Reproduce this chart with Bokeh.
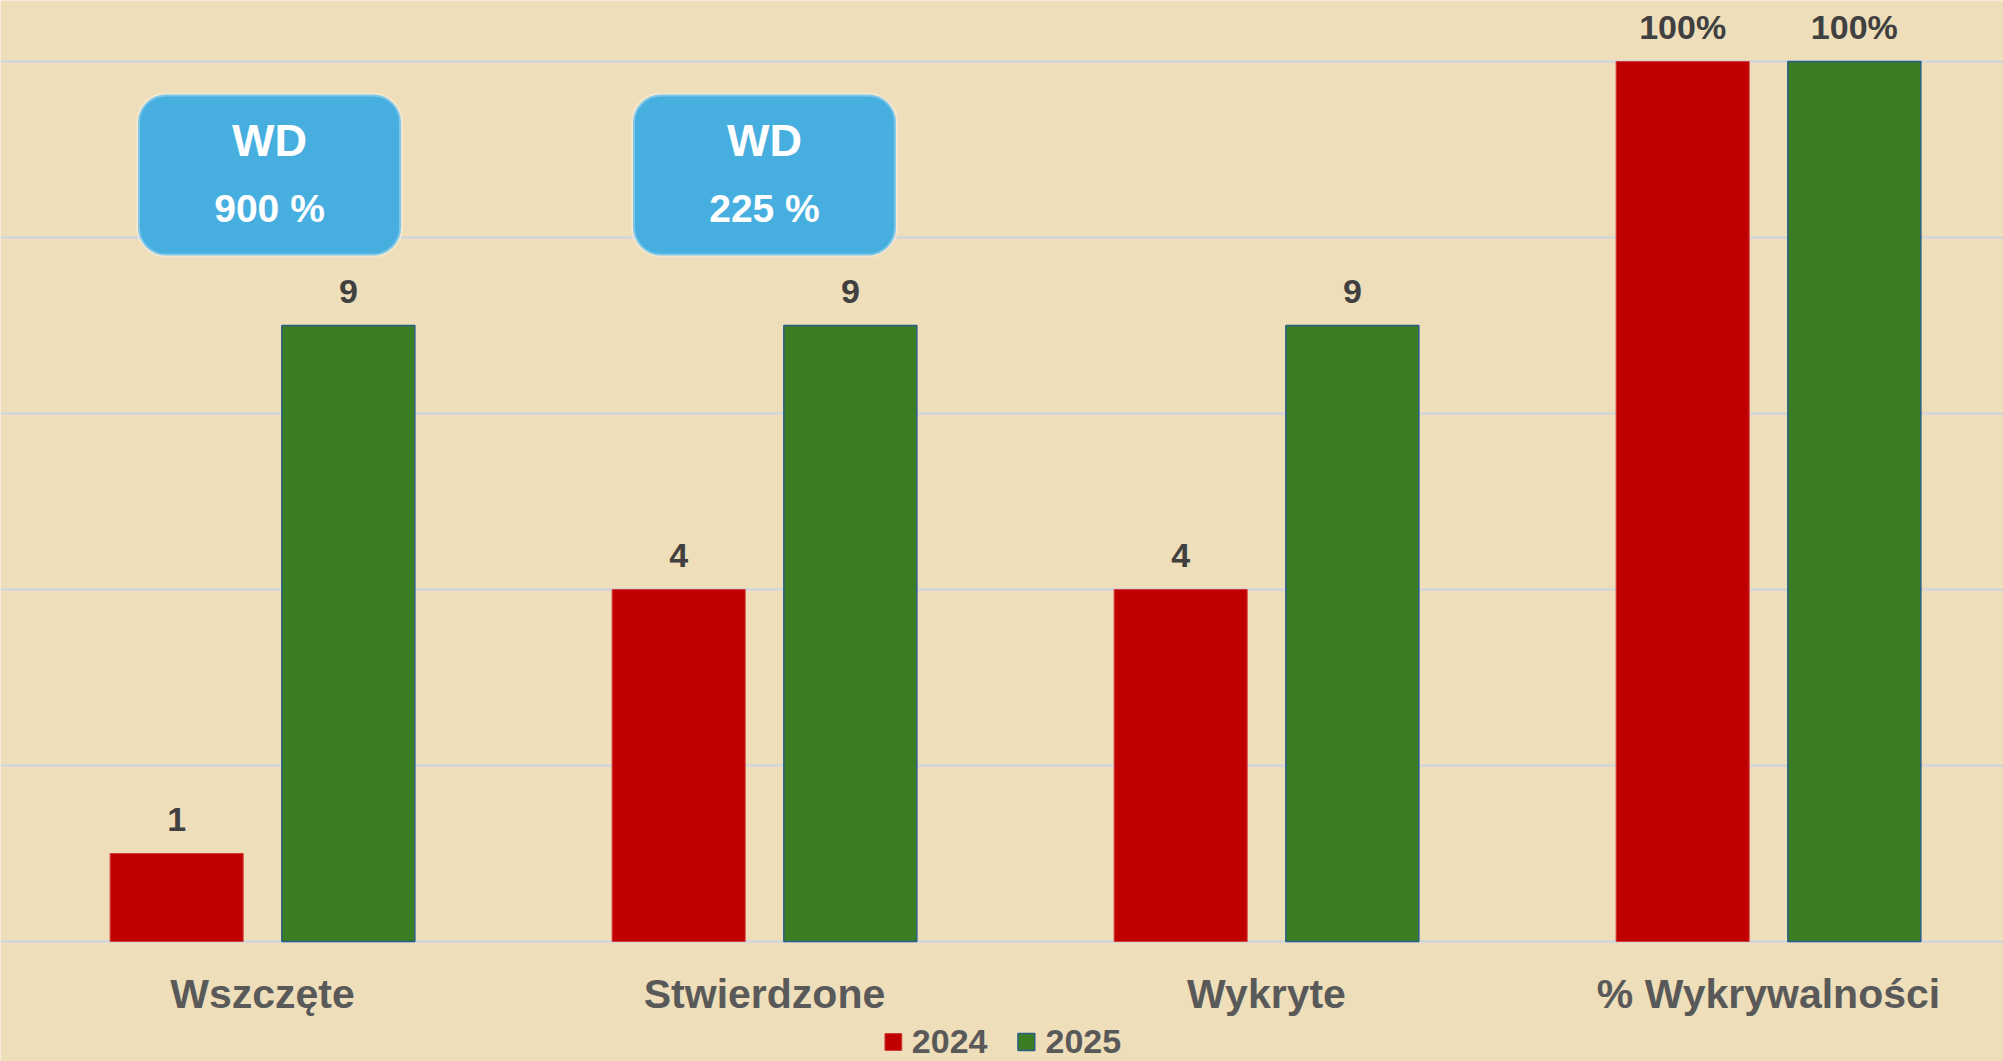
from bokeh.plotting import figure
from bokeh.models import (ColumnDataSource, Range1d, FixedTicker, Legend, LegendItem,
                          BoxAnnotation)
from bokeh.transform import dodge
from bokeh.embed import file_html
from bokeh.resources import INLINE
from bokeh.core.properties import value

# ---------------- data ----------------
categories = ["Wszczęte", "Stwierdzone", "Wykryte", "% Wykrywalności"]
series_names = ["2024", "2025"]
# bar heights as drawn on the chart's value axis
heights_2024 = [1, 4, 4, 10]
heights_2025 = [7, 7, 7, 10]
# data labels printed above the bars
labels_2024 = ["1", "4", "4", "100%"]
labels_2025 = ["9", "9", "9", "100%"]
# call-out boxes (category index, text)
callout_cats = [0, 1]
callout_title = ["WD", "WD"]
callout_text = ["900 %", "225 %"]
grid_ticks = [0, 2, 4, 6, 8, 10]

# ---------------- styling ----------------
BG = "#EEDEB9"
RED = "#C00000"
GREEN = "#3A7D22"
FONT = "Liberation Sans"
callout_shift = [0.014, 0.0]

idx = list(range(len(categories)))
src = ColumnDataSource(dict(x=idx, h24=heights_2024, h25=heights_2025,
                            l24=labels_2024, l25=labels_2025))

p = figure(width=2003, height=1061, output_backend="svg", toolbar_location=None,
           x_range=Range1d(-0.5219, 3.4681), y_range=Range1d(-1.364, 10.693),
           min_border_left=0, min_border_right=0, min_border_top=0, min_border_bottom=0)
p.background_fill_color = BG
p.border_fill_color = BG
p.outline_line_color = None

bw = 0.265
off = 0.171
r24 = p.vbar(x=dodge("x", -off, range=p.x_range), top="h24", width=bw, source=src,
             fill_color=RED, line_color="#D23A3A", line_width=1)
r25 = p.vbar(x=dodge("x", off, range=p.x_range), top="h25", width=bw, source=src,
             fill_color=GREEN, line_color="#2A6088", line_width=1.5)

lbl_kw = dict(text_font=value(FONT), text_font_style="bold", text_font_size="34px",
              text_color="#404040", text_align="center", text_baseline="alphabetic",
              y_offset=-34)
p.text(x=dodge("x", -off, range=p.x_range), y="h24", text="l24", source=src, **lbl_kw)
p.text(x=dodge("x", off, range=p.x_range), y="h25", text="l25", source=src, **lbl_kw)

# grid
p.xgrid.visible = False
p.ygrid.ticker = FixedTicker(ticks=grid_ticks)
p.ygrid.grid_line_color = "#D2D6DC"
p.ygrid.grid_line_width = 2.5
p.yaxis.visible = False
p.xaxis.visible = False

# category names under the groups
cat_src = ColumnDataSource(dict(x=idx, name=categories))
p.text(x="x", y=-0.60, text="name", source=cat_src, text_font=value(FONT),
       text_font_style="bold", text_font_size="41px", text_color="#595959",
       text_align="center", text_baseline="alphabetic")

# call-out boxes
for ci, sh in zip(callout_cats, callout_shift):
    box = BoxAnnotation(left=ci + sh - 0.262, right=ci + sh + 0.262, bottom=7.795, top=9.625,
                        fill_color="#47AFE0", fill_alpha=1.0, line_color="white",
                        line_width=4, border_radius=28, level="underlay")
    p.add_layout(box)
cs = ColumnDataSource(dict(x=callout_cats, sh=callout_shift,
                           t1=callout_title, t2=callout_text))
cs.data["cx"] = [c + s for c, s in zip(callout_cats, callout_shift)]
t1 = p.text(x="cx", y=9.10, text="t1", source=cs,
            text_font=value(FONT), text_font_style="bold",
            text_font_size="45px", text_color="white", text_align="center", text_baseline="middle")
t2 = p.text(x="cx", y=8.33, text="t2", source=cs,
            text_font=value(FONT), text_font_style="bold",
            text_font_size="39px", text_color="white", text_align="center", text_baseline="middle")
t1.level = "overlay"
t2.level = "overlay"

legend = Legend(items=[LegendItem(label=series_names[0], renderers=[r24]),
                       LegendItem(label=series_names[1], renderers=[r25])],
                orientation="horizontal", location="bottom_center",
                label_text_font=FONT, label_text_font_style="bold",
                label_text_font_size="34px", label_text_color="#595959",
                glyph_width=21, glyph_height=21, label_standoff=9, spacing=28,
                padding=0, margin=0, background_fill_alpha=0, border_line_alpha=0)
p.add_layout(legend)

open("out.html", "w").write(file_html(p, INLINE))
